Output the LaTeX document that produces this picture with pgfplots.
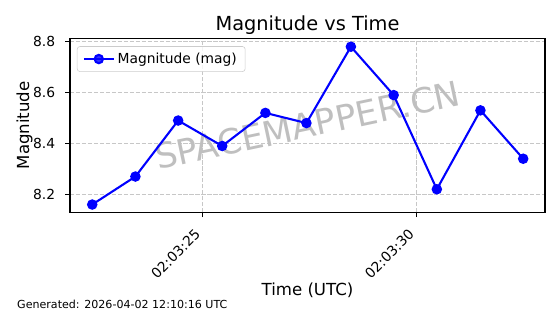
\documentclass[border=0pt]{standalone}
\usepackage{fontspec}
\setmainfont{DejaVu Sans}
\usepackage{pgfplots}
\pgfplotsset{compat=1.18}
\begin{document}
\begin{tikzpicture}
\useasboundingbox (0,0) rectangle (403.2bp,226.08bp);
\begin{axis}[
  at={(50.4bp,73.2bp)}, anchor=south west,
  scale only axis, width=342bp, height=125.3bp,
  xmin=21.90, xmax=33.01, ymin=8.1294, ymax=8.813,
  axis line style={line width=0.8bp, black},
  xtick={25,30}, xticklabels={02:03:25,02:03:30},
  ytick={8.2,8.4,8.6,8.8}, yticklabels={8.2,8.4,8.6,8.8},
  tick align=outside, xtick pos=bottom, ytick pos=left,
  major tick length=3.5bp,
  tick style={line width=0.8bp, black},
  grid=major,
  major grid style={dashed, dash pattern=on 3bp off 1.3bp, line width=0.6bp, black!22},
  tick label style={font=\fontsize{10}{12}\selectfont},
  yticklabel style={anchor=east, inner sep=0pt, xshift=-7bp},
  xticklabel style={xshift=-3.5bp, yshift=-10.5bp, rotate=45, anchor=east, inner sep=0pt},
  title={Magnitude vs Time},
  title style={at={(axis description cs:0.5,1)}, anchor=base, yshift=0bp, font=\fontsize{14}{17}\selectfont},
  xlabel={Time (UTC)},
  xlabel style={at={(axis description cs:0.5,0)}, anchor=base, yshift=-60bp, font=\fontsize{12}{14}\selectfont},
  ylabel={Magnitude},
  ylabel style={at={(axis description cs:-0.0863,0.5)}, anchor=base, font=\fontsize{12}{14}\selectfont},
  legend style={at={(axis description cs:0,1)}, anchor=north west, xshift=5bp, yshift=-5.7bp,
    draw=black!20, rounded corners=2bp, fill=white, fill opacity=0.8, text opacity=1,
    font=\fontsize{10}{12}\selectfont, inner xsep=4bp, inner ysep=2.5bp},
  legend cell align=left,
  legend image code/.code={\draw[mark repeat=2,mark phase=2] plot coordinates {(0bp,0bp) (10.8bp,0bp) (21.6bp,0bp)};},
]
\node[rotate=12, text=black!25, font=\fontsize{25}{30}\selectfont] at (rel axis cs:0.5,0.5) {SPACEMAPPER.CN};
\addplot[color=blue, line width=1.5bp, mark=*, mark size=3bp, mark options={solid, fill=blue, draw=blue}] coordinates {
(22.42,8.16)
(23.43,8.27)
(24.43,8.49)
(25.46,8.39)
(26.47,8.52)
(27.43,8.48)
(28.47,8.78)
(29.47,8.59)
(30.48,8.22)
(31.50,8.53)
(32.50,8.34)
};
\addlegendentry{Magnitude (mag)}
\end{axis}
\node[anchor=base west, inner sep=0pt, font=\fontsize{8}{10}\selectfont] at (12.2bp,3.8bp) {Generated: 2026-04-02 12:10:16 UTC};
\end{tikzpicture}
\end{document}
